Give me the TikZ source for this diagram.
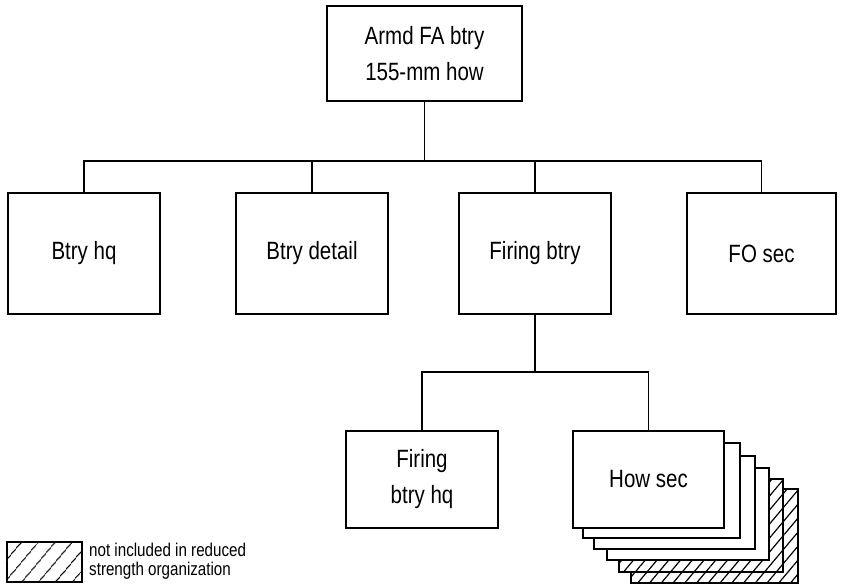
\documentclass[tikz,border=0pt]{standalone}
\usepackage{fontspec}
\setmainfont{Liberation Sans}[FakeStretch=0.82]
\usetikzlibrary{patterns.meta}
\tikzset{
  unit/.style={draw, line width=1.5pt, minimum width=152pt, align=center, inner sep=0pt,
    font=\fontsize{25}{36}\selectfont},
  conn/.style={line width=1.5pt},
  stackbox/.style={draw, line width=1.5pt, fill=white},
  hatchbox/.style={draw, line width=1.5pt, fill=white,
    postaction={pattern={Lines[angle=50,distance=9pt,line width=1.2pt]}}},
  legendhatch/.style={draw, line width=1.5pt, fill=white,
    postaction={pattern={Lines[angle=50,distance=13pt,line width=1.2pt]}}}
}
\begin{document}
\begin{tikzpicture}[x=1pt,y=-1pt]
\useasboundingbox (0,0) rectangle (841,587);
% top
\node[unit, minimum width=195pt, minimum height=95pt] (top) at (424.5,53.5) {Armd FA btry\\155-mm how};
% row 2
\node[unit, minimum height=121pt] (bhq) at (84,253.5) {Btry hq};
\node[unit, minimum height=121pt] (bdet) at (312,253.5) {Btry detail};
\node[unit, minimum height=121pt] (fbtry) at (535,253.5) {Firing btry};
\node[unit, minimum height=121pt, minimum width=149pt] (fo) at (761.5,253.5) {FO sec};
\coordinate (bus1) at (424.5,161);
\draw[conn] (top.south) -- (bus1);
\draw[conn] (bhq.north) |- (bus1) -| (fo.north);
\draw[conn] (bdet.north) -- (bdet.north |- bus1);
\draw[conn] (fbtry.north) -- (fbtry.north |- bus1);
% stack (back to front)
\draw[hatchbox] (631,489) rectangle (798,583);
\draw[hatchbox] (619,479) rectangle (783,572);
\draw[stackbox] (607,468) rectangle (769,560);
\draw[stackbox] (594,456) rectangle (755,549);
\draw[stackbox] (583,443) rectangle (740,538);
% row 3
\node[unit, minimum height=97pt] (fhq) at (422,479.5) {Firing\\btry hq};
\node[unit, minimum height=97pt, minimum width=151pt, fill=white] (how) at (648.5,479.5) {How sec};
\coordinate (bus2) at (535,372);
\draw[conn] (fbtry.south) -- (bus2);
\draw[conn] (fhq.north) |- (bus2) -| (how.north);
% legend
\draw[legendhatch] (7,542) rectangle (82,582);
\node[anchor=west, align=left, inner sep=0pt, font=\fontsize{18.5}{19}\selectfont] (leg) at (89,561)
  {not included in reduced\\strength organization};
\end{tikzpicture}
\end{document}
